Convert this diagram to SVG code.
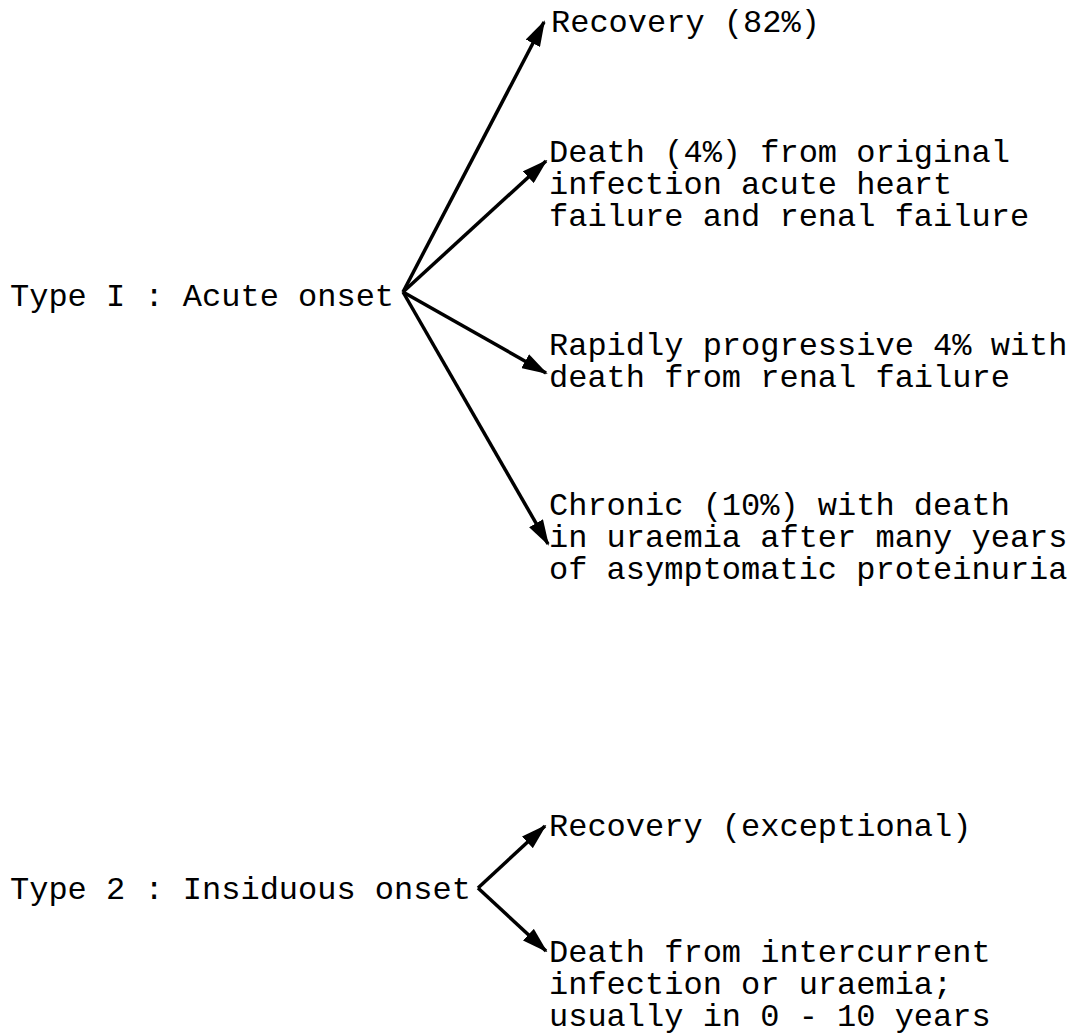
<svg xmlns="http://www.w3.org/2000/svg" width="1081" height="1034" viewBox="0 0 1081 1034">
<defs>
<style>
text{font-family:"Liberation Mono","Courier New",monospace;font-size:32px;fill:#000;}
.c line{stroke:#000;stroke-width:3.5;marker-end:url(#ah);}
</style>
<marker id="ah" markerUnits="userSpaceOnUse" markerWidth="26" markerHeight="16" viewBox="0 0 26 16" refX="24" refY="8" orient="auto">
<path d="M0,0 L26,8 L0,16 z" fill="#000"/>
</marker>
</defs>
<rect width="1081" height="1034" fill="#fff"/>
<g class="c" id="connectors">
<line x1="403" y1="292" x2="544" y2="22"/>
<line x1="403" y1="292" x2="546" y2="161"/>
<line x1="403" y1="292" x2="546" y2="373"/>
<line x1="403" y1="292" x2="548" y2="544"/>
<line x1="478" y1="888" x2="545" y2="826"/>
<line x1="478" y1="888" x2="546" y2="951"/>
</g>
<g id="type1"><text x="10" y="306">Type I : Acute onset</text></g>
<g id="recovery1"><text x="551" y="32">Recovery (82%)</text></g>
<g id="death1"><text x="549" y="162">Death (4%) from original</text><text x="549" y="194">infection acute heart</text><text x="549" y="226">failure and renal failure</text></g>
<g id="rapid"><text x="549" y="355">Rapidly progressive 4% with</text><text x="549" y="387">death from renal failure</text></g>
<g id="chronic"><text x="549" y="515">Chronic (10%) with death</text><text x="549" y="547">in uraemia after many years</text><text x="549" y="579">of asymptomatic proteinuria</text></g>
<g id="type2"><text x="10" y="899">Type 2 : Insiduous onset</text></g>
<g id="recovery2"><text x="549" y="836">Recovery (exceptional)</text></g>
<g id="death2"><text x="549" y="962">Death from intercurrent</text><text x="549" y="994">infection or uraemia;</text><text x="549" y="1026">usually in 0 - 10 years</text></g>
</svg>
